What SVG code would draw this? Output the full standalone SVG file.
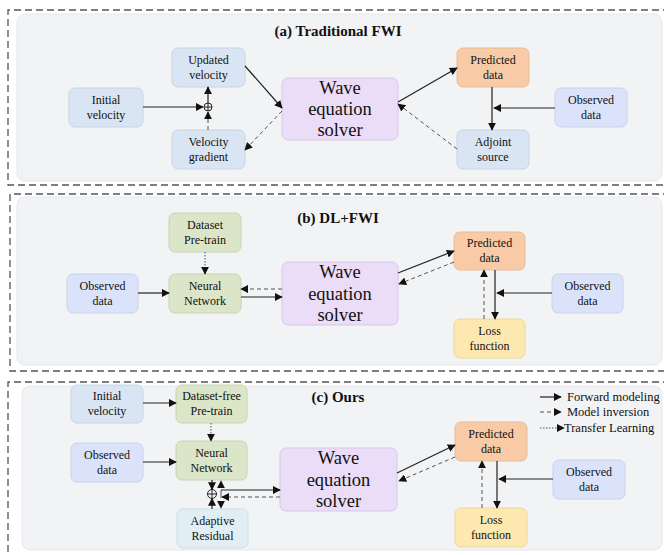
<svg xmlns="http://www.w3.org/2000/svg" width="664" height="555" viewBox="0 0 664 555" font-family="Liberation Serif, serif">
<defs>
<marker id="ah" viewBox="0 0 10 10" refX="9" refY="5" markerWidth="8" markerHeight="8" markerUnits="userSpaceOnUse" orient="auto">
<path d="M0,0 L10,5 L0,10 z" fill="#111"/>
</marker>
</defs>
<style>
text{fill:#111;font-family:'Liberation Serif','Times New Roman',serif}
.t{font-size:12px;text-anchor:middle}
.big{font-size:18.5px;text-anchor:middle}
.title{font-size:15px;font-weight:bold;text-anchor:middle}
.leg{font-size:12.5px}
.outer{fill:none;stroke:#555;stroke-width:1.3;stroke-dasharray:7 4}
.inner{fill:#f2f3f5;stroke:#e3e8f0;stroke-width:1}
.vel{fill:#dae5f3;stroke:#c8d4e4}
.obs{fill:#dbe3fa;stroke:#c9d2ec}
.pred{fill:#f8cba6;stroke:#e8bc98}
.green{fill:#dbe5c8;stroke:#c8d4b4}
.loss{fill:#fde9b0;stroke:#ecd89e}
.wave{fill:#ebdcf8;stroke:#d8c8ea}
.res{fill:#e1eff5;stroke:#cddfe8}
.solid{fill:none;stroke:#222;stroke-width:1.2;marker-end:url(#ah)}
.dash{fill:none;stroke:#555;stroke-width:1;stroke-dasharray:4 3;marker-end:url(#ah)}
.dot{fill:none;stroke:#555;stroke-width:1;stroke-dasharray:1.5 1.5;marker-end:url(#ah)}
.plus{fill:none;stroke:#222;stroke-width:1}
</style>

<g id="panels">
<rect class="inner" x="17" y="14" width="645" height="167" rx="8"/>
<path class="outer" d="M670,10 H8 V185 H670"/>
<rect class="inner" x="17" y="197" width="645" height="168" rx="8"/>
<path class="outer" d="M670,194 H10 V371 H670"/>
<rect class="inner" x="22" y="386" width="640" height="164" rx="8"/>
<path class="outer" d="M670,382 H8 V560"/>
</g>

<g id="titles">
<text class="title" x="338" y="36">(a) Traditional FWI</text>
<text class="title" x="338" y="223">(b) DL+FWI</text>
<text class="title" x="338" y="402">(c) Ours</text>
</g>

<!-- Panel (a) -->
<g id="a-updated"><rect class="vel" x="172" y="48" width="73" height="39" rx="6"/><text class="t" x="208.5" y="64">Updated</text><text class="t" x="208.5" y="79">velocity</text></g>
<g id="a-initial"><rect class="vel" x="69" y="88" width="74" height="39" rx="6"/><text class="t" x="106" y="104">Initial</text><text class="t" x="106" y="119">velocity</text></g>
<g id="a-gradient"><rect class="vel" x="172" y="130" width="73" height="39" rx="6"/><text class="t" x="208.5" y="146">Velocity</text><text class="t" x="208.5" y="161">gradient</text></g>
<g id="a-wave"><rect class="wave" x="282" y="78" width="116" height="62" rx="6"/><text class="big" x="340" y="94">Wave</text><text class="big" x="340" y="115">equation</text><text class="big" x="340" y="136">solver</text></g>
<g id="a-pred"><rect class="pred" x="457" y="48" width="72" height="39" rx="6"/><text class="t" x="493" y="64">Predicted</text><text class="t" x="493" y="79">data</text></g>
<g id="a-adj"><rect class="vel" x="457" y="130" width="72" height="39" rx="6"/><text class="t" x="493" y="146">Adjoint</text><text class="t" x="493" y="161">source</text></g>
<g id="a-obs"><rect class="obs" x="555" y="88" width="72" height="39" rx="6"/><text class="t" x="591" y="104">Observed</text><text class="t" x="591" y="119">data</text></g>
<g id="a-plus"><circle class="plus" cx="208" cy="107" r="4"/><path class="plus" d="M204,107 H212 M208,103 V111"/></g>

<!-- Panel (b) -->
<g id="b-dataset"><rect class="green" x="169" y="213" width="72" height="39" rx="6"/><text class="t" x="205" y="229">Dataset</text><text class="t" x="205" y="244">Pre-train</text></g>
<g id="b-nn"><rect class="green" x="169" y="274" width="72" height="39" rx="6"/><text class="t" x="205" y="290">Neural</text><text class="t" x="205" y="305">Network</text></g>
<g id="b-obs"><rect class="obs" x="67" y="274" width="71" height="39" rx="6"/><text class="t" x="102.5" y="290">Observed</text><text class="t" x="102.5" y="305">data</text></g>
<g id="b-wave"><rect class="wave" x="282" y="262" width="116" height="63" rx="6"/><text class="big" x="340" y="278">Wave</text><text class="big" x="340" y="300">equation</text><text class="big" x="340" y="321">solver</text></g>
<g id="b-pred"><rect class="pred" x="454" y="232" width="71" height="38" rx="6"/><text class="t" x="489.5" y="247">Predicted</text><text class="t" x="489.5" y="262">data</text></g>
<g id="b-loss"><rect class="loss" x="454" y="319" width="71" height="39" rx="6"/><text class="t" x="489.5" y="335">Loss</text><text class="t" x="489.5" y="350">function</text></g>
<g id="b-obs2"><rect class="obs" x="552" y="274" width="71" height="39" rx="6"/><text class="t" x="587.5" y="290">Observed</text><text class="t" x="587.5" y="305">data</text></g>

<!-- Panel (c) -->
<g id="c-initial"><rect class="vel" x="71" y="385" width="72" height="38" rx="6"/><text class="t" x="107" y="400">Initial</text><text class="t" x="107" y="415">velocity</text></g>
<g id="c-pretrain"><rect class="green" x="176" y="385" width="71" height="38" rx="6"/><text class="t" x="211.5" y="400">Dataset-free</text><text class="t" x="211.5" y="415">Pre-train</text></g>
<g id="c-obs"><rect class="obs" x="71" y="443" width="72" height="39" rx="6"/><text class="t" x="107" y="459">Observed</text><text class="t" x="107" y="474">data</text></g>
<g id="c-nn"><rect class="green" x="176" y="441" width="71" height="39" rx="6"/><text class="t" x="211.5" y="457">Neural</text><text class="t" x="211.5" y="472">Network</text></g>
<g id="c-res"><rect class="res" x="177" y="509" width="71" height="39" rx="6"/><text class="t" x="212.5" y="525">Adaptive</text><text class="t" x="212.5" y="540">Residual</text></g>
<g id="c-plus"><circle class="plus" cx="212" cy="494" r="4.5"/><path class="plus" d="M207.5,494 H216.5 M212,489.5 V498.5"/></g>
<g id="c-wave"><rect class="wave" x="280" y="448" width="117" height="63" rx="6"/><text class="big" x="338.5" y="464">Wave</text><text class="big" x="338.5" y="486">equation</text><text class="big" x="338.5" y="507">solver</text></g>
<g id="c-pred"><rect class="pred" x="455" y="422" width="72" height="39" rx="6"/><text class="t" x="491" y="438">Predicted</text><text class="t" x="491" y="453">data</text></g>
<g id="c-loss"><rect class="loss" x="455" y="508" width="72" height="39" rx="6"/><text class="t" x="491" y="524">Loss</text><text class="t" x="491" y="539">function</text></g>
<g id="c-obs2"><rect class="obs" x="553" y="460" width="72" height="39" rx="6"/><text class="t" x="589" y="476">Observed</text><text class="t" x="589" y="491">data</text></g>

<g id="legend">
<path class="solid" d="M540,397 H561"/><text class="leg" x="567" y="401">Forward modeling</text>
<path class="dash" d="M540,412 H561"/><text class="leg" x="567" y="416">Model inversion</text>
<path class="dot" d="M540,428 H564"/><text class="leg" x="564" y="432">Transfer Learning</text>
</g>

<g id="connectors">
<path class="solid" d="M143,107 H203"/>
<path class="dash" d="M208,130 V112"/>
<path class="solid" d="M208,103 V87"/>
<path class="solid" d="M245,66 L282,108"/>
<path class="dash" d="M282,111 L245,150"/>
<path class="solid" d="M398,102 L457,68"/>
<path class="dash" d="M457,149 L398,104"/>
<path class="solid" d="M492,87 V130"/>
<path class="solid" d="M555,108 H494"/>
<path class="dot" d="M205,252 V274"/>
<path class="solid" d="M138,293 H169"/>
<path class="dash" d="M282,289 H241"/>
<path class="solid" d="M241,297 H282"/>
<path class="solid" d="M398,273 L454,251"/>
<path class="dash" d="M454,262 L399,284"/>
<path class="solid" d="M495,270 V319"/>
<path class="dash" d="M484,319 V270"/>
<path class="solid" d="M552,293 H497"/>
<path class="solid" d="M143,403 H176"/>
<path class="dot" d="M211,423 V441"/>
<path class="solid" d="M143,462 H176"/>
<path class="solid" d="M212,480 V489.5"/>
<path class="solid" d="M212,509 V498.5"/>
<path class="dash" d="M221,494 V481"/>
<path class="dash" d="M221,494 V508"/>
<path class="solid" d="M221,490 H280"/>
<path class="dash" d="M280,497 H222"/>
<path class="solid" d="M397,473 L455,445"/>
<path class="dash" d="M455,457 L399,481"/>
<path class="solid" d="M497,461 V508"/>
<path class="dash" d="M482,508 V461"/>
<path class="solid" d="M553,479 H499"/>
</g>
</svg>
